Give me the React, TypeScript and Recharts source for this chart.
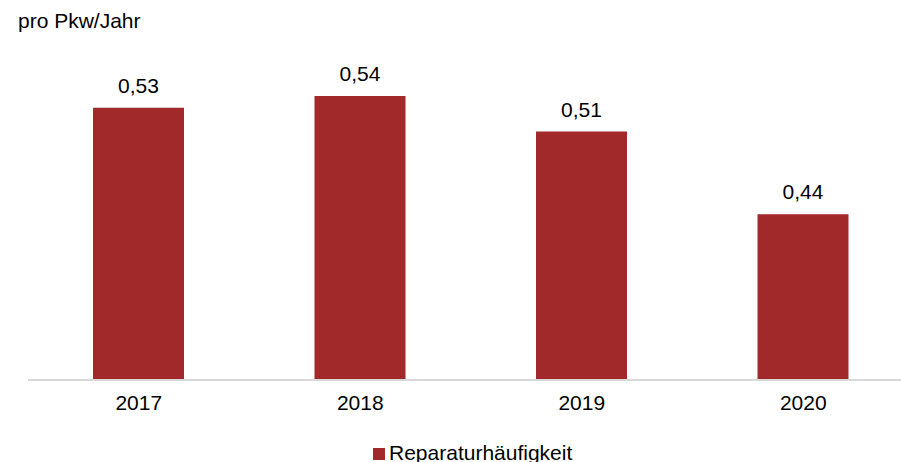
import { BarChart, Bar, XAxis, YAxis, Legend, LabelList } from "recharts";

const years = ["2017", "2018", "2019", "2020"];
const repairRate = [0.53, 0.54, 0.51, 0.44];
const seriesName = "Reparaturhäufigkeit";
const unitLabel = "pro Pkw/Jahr";

const data = years.map((year, i) => ({ year, value: repairRate[i] }));

const FONT = '"Liberation Sans", Arial, sans-serif';
const BAR_COLOR = "#A2292A";

export default function App() {
  return (
    <div
      style={{
        width: 901,
        height: 462,
        overflow: "hidden",
        position: "relative",
        fontFamily: FONT,
        background: "#fff",
      }}
    >
      <style>{"body{margin:0}"}</style>
      <div
        style={{
          position: "absolute",
          left: 18,
          top: 9,
          fontSize: 21,
          color: "#000",
          zIndex: 1,
        }}
      >
        {unitLabel}
      </div>
      <BarChart
        width={930}
        height={462}
        data={data}
        barSize={91}
        margin={{ top: 25, right: 16, left: 28, bottom: 0 }}
        style={{ fontFamily: FONT }}
      >
        <YAxis hide domain={[0.3, 0.6]} />
        <XAxis
          dataKey="year"
          height={58}
          tickLine={false}
          axisLine={{ stroke: "#D9D9D9", strokeWidth: 2 }}
          tick={{ fill: "#000", fontSize: 21 }}
          tickMargin={9}
        />
        <Legend
          verticalAlign="bottom"
          align="left"
          iconType="square"
          iconSize={12}
          wrapperStyle={{
            fontSize: 21,
            color: "#000",
            bottom: -3,
            left: 373,
            width: 320,
            lineHeight: "24px",
          }}
          formatter={(v) => <span style={{ color: "#000" }}>{v}</span>}
        />
        <Bar
          dataKey="value"
          name={seriesName}
          fill={BAR_COLOR}
          isAnimationActive={false}
        >
          <LabelList
            dataKey="value"
            position="top"
            offset={15}
            fill="#000"
            fontSize={21}
            formatter={(v: number) => v.toFixed(2).replace(".", ",")}
          />
        </Bar>
      </BarChart>
    </div>
  );
}
